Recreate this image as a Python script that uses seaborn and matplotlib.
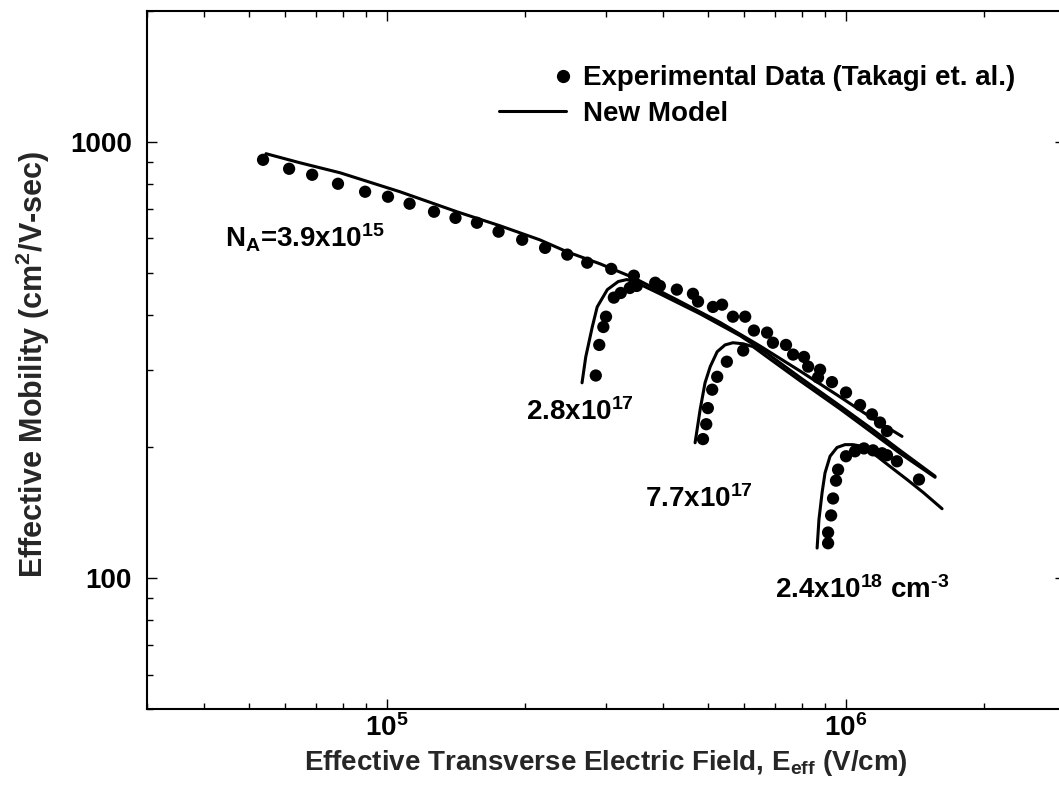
import numpy as np
import pandas as pd
import matplotlib
matplotlib.use("Agg")
import matplotlib.pyplot as plt
import seaborn as sns
from matplotlib.lines import Line2D
from matplotlib.legend_handler import HandlerLine2D
from matplotlib.ticker import FuncFormatter, NullFormatter, LogLocator

# ---------------------------------------------------------------------------
# Effective electron mobility vs. effective transverse field (V/cm, cm^2/V-s)
# ---------------------------------------------------------------------------
DOPINGS = ["3.9e15", "2.8e17", "7.7e17", "2.4e18"]

# Experimental data (Takagi et al.)
E_DATA_39E15 = [5.37e4, 6.12e4, 6.87e4, 7.82e4, 8.96e4, 1.005e5, 1.12e5, 1.266e5,
                1.41e5, 1.57e5, 1.75e5, 1.97e5, 2.21e5, 2.47e5, 2.73e5, 3.08e5,
                3.45e5, 3.84e5, 4.28e5, 4.76e5, 5.37e5, 6.03e5, 6.73e5, 7.40e5,
                8.10e5, 8.78e5, 9.32e5, 1.00e6, 1.073e6, 1.139e6, 1.186e6]
MU_DATA_39E15 = [909, 867, 840, 801, 768, 748, 721, 691, 669, 652, 622, 596, 571,
                 551, 528, 511, 493, 475, 458, 430, 423, 397, 365, 342, 321, 300,
                 281, 266, 249, 237, 227]

E_DATA_28E17 = [2.85e5, 2.90e5, 2.96e5, 3.00e5, 3.12e5, 3.23e5, 3.38e5, 3.50e5,
                3.93e5, 4.64e5, 5.13e5, 5.67e5, 6.30e5, 6.93e5, 7.67e5, 8.27e5,
                8.69e5, 1.228e6]
MU_DATA_28E17 = [291, 342, 376, 397, 439, 450, 462, 467, 467, 448, 418, 397, 369,
                 346, 325, 305, 288, 217]

E_DATA_77E17 = [4.88e5, 4.96e5, 5.00e5, 5.11e5, 5.24e5, 5.50e5, 5.97e5]
MU_DATA_77E17 = [208, 225, 245, 270, 289, 313, 332]

E_DATA_24E18 = [9.14e5, 9.14e5, 9.28e5, 9.37e5, 9.51e5, 9.61e5, 1.00e6, 1.046e6,
                1.094e6, 1.145e6, 1.198e6, 1.228e6, 1.291e6, 1.442e6]
MU_DATA_24E18 = [120, 127, 139, 152, 167, 177, 190, 195, 198, 196, 193, 191, 185, 168]

# New model
E_MODEL_39E15 = [5.45e4, 6.46e4, 7.90e4, 1.067e5, 1.42e5, 1.76e5, 2.15e5, 2.47e5,
                 2.91e5, 3.44e5, 4.28e5, 5.32e5, 6.50e5, 7.94e5, 9.70e5, 1.128e6,
                 1.324e6]
MU_MODEL_39E15 = [939, 895, 849, 768, 691, 642, 596, 559, 525, 488, 434, 385, 340,
                  298, 260, 234, 211]

E_MODEL_28E17 = [2.66e5, 2.71e5, 2.80e5, 2.87e5, 3.02e5, 3.19e5, 3.33e5, 3.50e5,
                 3.93e5, 4.81e5, 5.88e5, 6.73e5, 7.94e5, 9.70e5, 1.128e6, 1.311e6,
                 1.563e6]
MU_MODEL_28E17 = [280, 321, 376, 418, 458, 478, 483, 475, 448, 403, 359, 327, 288,
                  248, 221, 196, 171]

E_MODEL_77E17 = [4.69e5, 4.81e5, 4.93e5, 5.06e5, 5.24e5, 5.45e5, 5.67e5, 5.97e5,
                 6.27e5, 6.73e5, 7.94e5, 9.70e5, 1.128e6, 1.311e6, 1.563e6]
MU_MODEL_77E17 = [204, 243, 280, 305, 330, 342, 346, 344, 339, 321, 283, 244, 217,
                  193, 170]

E_MODEL_24E18 = [8.65e5, 8.73e5, 8.87e5, 9.00e5, 9.23e5, 9.56e5, 9.95e5, 1.036e6,
                 1.089e6, 1.168e6, 1.247e6, 1.358e6, 1.472e6, 1.619e6]
MU_MODEL_24E18 = [117, 136, 157, 174, 190, 199, 202, 202, 200, 190, 180, 168, 157, 144]

# Curve labels: text, field, mobility (left / baseline anchor)
LABEL_TEXTS = ["N$_{A}$=3.9x10$^{15}$", "2.8x10$^{17}$", "7.7x10$^{17}$",
               "2.4x10$^{18}$ cm$^{\u20103}$"]
LABEL_E = [4.44e4, 2.01e5, 3.65e5, 7.00e5]
LABEL_MU = [571, 230, 145, 90]

LEGEND_LABELS = ["Experimental Data (Takagi et. al.)", "New Model"]


def long_frame(pairs):
    frames = []
    for dop, (e, mu) in zip(DOPINGS, pairs):
        frames.append(pd.DataFrame({"E": e, "mu": mu, "doping": dop}))
    return pd.concat(frames, ignore_index=True)


data_df = long_frame([(E_DATA_39E15, MU_DATA_39E15), (E_DATA_28E17, MU_DATA_28E17),
                      (E_DATA_77E17, MU_DATA_77E17), (E_DATA_24E18, MU_DATA_24E18)])
model_df = long_frame([(E_MODEL_39E15, MU_MODEL_39E15), (E_MODEL_28E17, MU_MODEL_28E17),
                       (E_MODEL_77E17, MU_MODEL_77E17), (E_MODEL_24E18, MU_MODEL_24E18)])

sns.set_theme(style="ticks")
plt.rcParams.update({
    "font.family": ["Liberation Sans", "DejaVu Sans"],
    "font.weight": "bold",
    "axes.labelweight": "bold",
    "mathtext.fontset": "custom",
    "mathtext.rm": "Liberation Sans:bold",
    "mathtext.it": "Liberation Sans:bold",
    "mathtext.bf": "Liberation Sans:bold",
    "mathtext.sf": "Liberation Sans:bold",
    "mathtext.default": "regular",
    "axes.linewidth": 1.5,
    "axes.edgecolor": "black",
    "text.color": "black",
    "xtick.color": "black",
    "ytick.color": "black",
})

FS = 20
LW = 2.2

fig = plt.figure(figsize=(10.59, 7.90), dpi=100)
ax = fig.add_axes([0.1388, 0.1025, 0.8669, 0.8842])

sns.lineplot(data=model_df, x="E", y="mu", units="doping", estimator=None,
             sort=False, color="black", linewidth=LW, ax=ax, legend=False)
sns.scatterplot(data=data_df, x="E", y="mu", color="black", s=78,
                edgecolor="none", linewidth=0, ax=ax, legend=False, zorder=3)

ax.set_xscale("log")
ax.set_yscale("log")
ax.set_xlim(3e4, 3e6)
ax.set_ylim(50, 2000)

ax.xaxis.set_major_locator(LogLocator(base=10))
ax.yaxis.set_major_locator(LogLocator(base=10))
ax.xaxis.set_minor_locator(LogLocator(base=10, subs=np.arange(2, 10)))
ax.yaxis.set_minor_locator(LogLocator(base=10, subs=np.arange(2, 10)))
ax.xaxis.set_major_formatter(
    FuncFormatter(lambda v, p: "10$^{%d}$" % int(round(np.log10(v)))))
ax.yaxis.set_major_formatter(FuncFormatter(lambda v, p: "%d" % int(round(v))))
ax.xaxis.set_minor_formatter(NullFormatter())
ax.yaxis.set_minor_formatter(NullFormatter())

ax.tick_params(which="both", direction="in", top=True, right=True, width=1.0)
ax.tick_params(which="major", length=7, labelsize=FS)
ax.tick_params(which="minor", length=4)
ax.tick_params(axis="y", which="major", pad=11)
ax.tick_params(axis="x", which="major", pad=4)

ax.set_xlabel("Effective Transverse Electric Field, E$_{eff}$ (V/cm)",
              fontsize=FS, fontweight="bold", labelpad=4)
ax.set_ylabel("Effective Mobility (cm$^{2}$/V-sec)", fontsize=22,
              fontweight="bold")
ax.yaxis.set_label_coords(-0.104, 0.493)

for txt, e, mu in zip(LABEL_TEXTS, LABEL_E, LABEL_MU):
    ax.text(e, mu, txt, fontsize=FS, fontweight="bold", ha="left", va="baseline")


class MarkerAtEnd(HandlerLine2D):
    """Single legend marker drawn at the right end of the handle box."""

    def get_xdata(self, legend, xdescent, ydescent, width, height, fontsize):
        x_end = -xdescent + width - 0.1 * fontsize
        xdata = np.array([x_end, x_end], float)
        return xdata, np.array([x_end], float)


dot_handle = Line2D([], [], linestyle="none", marker="o", color="black",
                    markersize=8.5)
line_handle = Line2D([], [], color="black", linewidth=LW)
ax.legend([dot_handle, line_handle], LEGEND_LABELS,
          handler_map={dot_handle: MarkerAtEnd(numpoints=1)},
          loc="upper left", bbox_to_anchor=(0.3834, 0.9215), frameon=False,
          borderpad=0, borderaxespad=0, handlelength=2.4, handletextpad=0.63,
          labelspacing=0.33, prop={"family": "Liberation Sans", "weight": "bold",
                                   "size": FS})

fig.savefig("out.png", dpi=100)
